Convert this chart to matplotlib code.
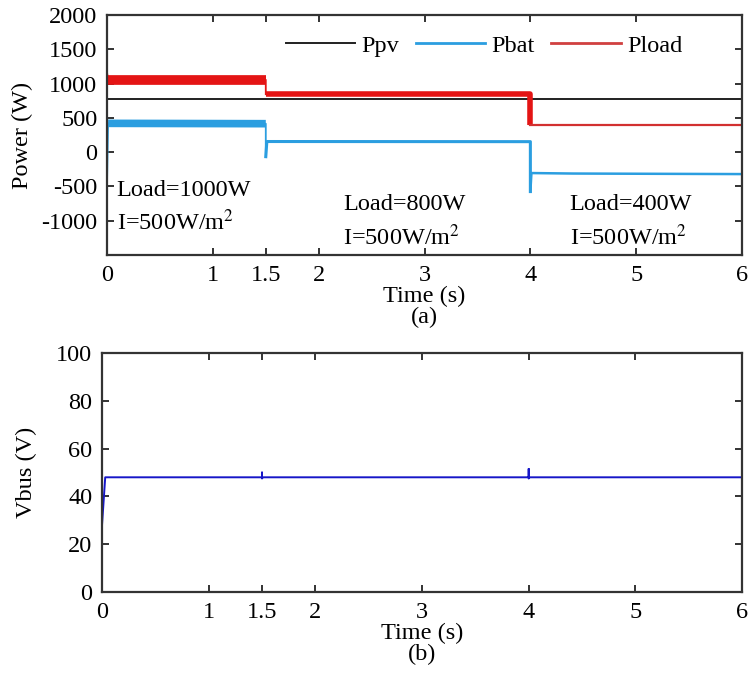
import matplotlib.pyplot as plt

plt.rcParams["font.family"] = ["Liberation Serif", "DejaVu Serif"]
plt.rcParams["mathtext.fontset"] = "stix"
plt.rcParams["axes.unicode_minus"] = False

# Time breakpoints (s) and power levels (W)
t_pv = [0.0, 6.0]
p_pv = [770, 770]

# Noisy segments are drawn as thicker lines
t_load_a = [0.0, 0.0, 0.01, 1.5, 1.5]
p_load_a = [-100, 1160, 1055, 1055, 845]
t_load_b = [1.5, 4.0, 4.0]
p_load_b = [845, 845, 398]
t_load_c = [4.0, 6.0]
p_load_c = [398, 398]

t_bat_a = [0.0, 0.0, 0.01, 1.5, 1.5]
p_bat_a = [2000, -450, 420, 415, -66]
t_bat_b = [1.5, 1.51, 4.0, 4.0]
p_bat_b = [-66, 155, 153, -575]
t_bat_c = [4.0, 4.01, 4.4, 6.0]
p_bat_c = [-575, -305, -312, -320]

t_vbus = [0.0, 0.03, 1.5, 1.5, 1.5, 1.51, 4.0, 4.0, 4.0, 4.01, 6.0]
v_bus = [28, 48, 48, 50, 47.5, 48, 48, 51.5, 47.5, 48, 48]

xticks = [0, 1, 1.5, 2, 3, 4, 5, 6]
xtick_labels = ["0", "1", "1.5", "2", "3", "4", "5", "6"]
p_ticks = [2000, 1500, 1000, 500, 0, -500, -1000]
v_ticks = [0, 20, 40, 60, 80, 100]

notes = [
    (0.09, -560, -1030, "Load=1000W"),
    (2.23, -770, -1250, "Load=800W"),
    (4.37, -770, -1250, "Load=400W"),
]

PV_C = "#202020"
BAT_C = "#2b9ee0"
LOAD_C = "#e41414"
VBUS_C = "#1616c8"
SPINE_C = "#333333"
FS = 17.5


def style_axes(ax):
    for s in ax.spines.values():
        s.set_linewidth(1.6)
        s.set_color(SPINE_C)
    ax.tick_params(direction="in", top=True, right=True, length=5, width=1.4,
                   labelsize=FS, color=SPINE_C, pad=7)
    ax.set_xlim(0, 6)
    ax.set_xticks(xticks)
    ax.set_xticklabels(xtick_labels)


fig = plt.figure(figsize=(7.49, 6.86), dpi=100)
ax1 = fig.add_axes([0.1429, 0.6283, 0.8478, 0.3498])
ax2 = fig.add_axes([0.1362, 0.1370, 0.8545, 0.3484])

# (a) power
ax1.plot(t_pv, p_pv, color=PV_C, lw=1.4, label="Ppv")
ax1.plot(t_bat_a, p_bat_a, color=BAT_C, lw=1.3)
ax1.plot(t_bat_a[2:4], p_bat_a[2:4], color=BAT_C, lw=5.5, solid_capstyle="butt")
ax1.plot(t_bat_b, p_bat_b, color=BAT_C, lw=2.2)
ax1.plot(t_bat_c, p_bat_c, color=BAT_C, lw=1.8)
ax1.plot(t_load_a, p_load_a, color=LOAD_C, lw=1.3)
ax1.plot(t_load_a[2:4], p_load_a[2:4], color=LOAD_C, lw=7, solid_capstyle="butt")
ax1.plot(t_load_b, p_load_b, color=LOAD_C, lw=4, solid_capstyle="butt")
ax1.plot(t_load_c, p_load_c, color="#d23030", lw=1.6)
ax1.plot([], [], color=BAT_C, lw=2, label="Pbat")
ax1.plot([], [], color="#d04040", lw=2, label="Pload")

ax1.legend(ncol=3, loc="upper right", frameon=False, fontsize=FS,
           handlelength=2.85, columnspacing=0.7, handletextpad=0.25,
           bbox_to_anchor=(0.94, 1.01))

for x, y1, y2, txt in notes:
    ax1.text(x, y1, txt, fontsize=FS, va="center", ha="left")
    ax1.text(x, y2, r"I=500W/m$^2$", fontsize=FS, va="center", ha="left")

style_axes(ax1)
ax1.set_ylim(-1500, 2000)
ax1.set_yticks(p_ticks)
ax1.set_ylabel("Power (W)", fontsize=FS, labelpad=6)
ax1.set_xlabel("Time (s)\n(a)", fontsize=FS, labelpad=0, linespacing=1.0)

# (b) bus voltage
ax2.plot(t_vbus, v_bus, color=VBUS_C, lw=1.4)
style_axes(ax2)
ax2.set_ylim(0, 100)
ax2.set_yticks(v_ticks)
ax2.set_ylabel("Vbus (V)", fontsize=FS, labelpad=14)
ax2.set_xlabel("Time (s)\n(b)", fontsize=FS, labelpad=0, linespacing=1.0)

fig.savefig("out.png", dpi=100)
